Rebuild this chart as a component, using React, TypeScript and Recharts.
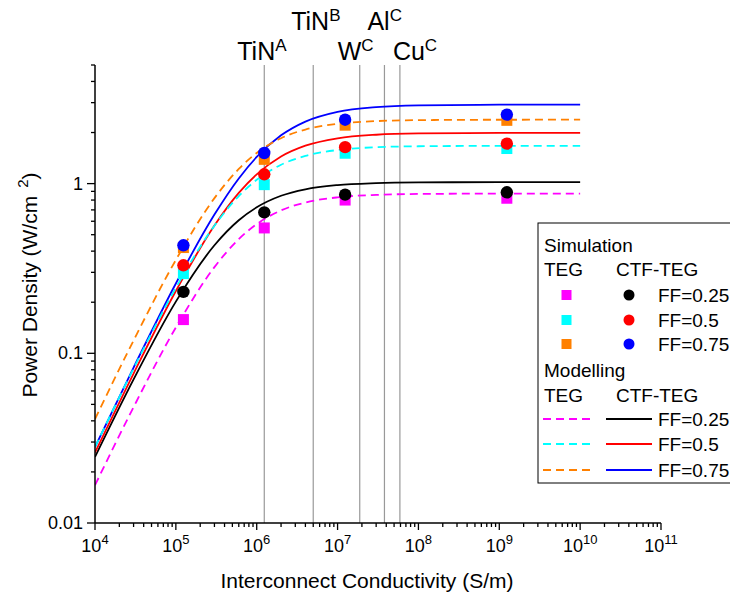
import React from 'react';
import { ComposedChart, Line, Scatter, XAxis, YAxis, ReferenceLine } from 'recharts';

// ---------- data ----------
const curveSigma = [1e4, 3e4, 1e5, 3e5, 6e5, 1e6, 2e6, 4e6, 1e7, 3e7, 1e8, 1e9, 1e10];
const modTegFF025 = [0.0167, 0.0482, 0.142, 0.322, 0.471, 0.577, 0.695, 0.774, 0.83, 0.858, 0.869, 0.873, 0.873];
const modTegFF05 = [0.028, 0.0813, 0.243, 0.565, 0.845, 1.053, 1.292, 1.457, 1.578, 1.638, 1.66, 1.669, 1.67];
const modTegFF075 = [0.041, 0.119, 0.355, 0.821, 1.22, 1.516, 1.852, 2.083, 2.25, 2.335, 2.366, 2.379, 2.38];
const modCtfFF025 = [0.0245, 0.0702, 0.2016, 0.433, 0.608, 0.725, 0.848, 0.926, 0.98, 1.006, 1.016, 1.02, 1.02];
const modCtfFF05 = [0.026, 0.076, 0.233, 0.566, 0.881, 1.134, 1.445, 1.674, 1.85, 1.941, 1.975, 1.988, 1.99];
const modCtfFF075 = [0.028, 0.0824, 0.258, 0.657, 1.073, 1.436, 1.925, 2.32, 2.647, 2.823, 2.89, 2.917, 2.92];

const simSigma = [1.24e5, 1.24e6, 1.24e7, 1.24e9];
const simTegFF025 = [0.158, 0.548, 0.8, 0.82];
const simTegFF05 = [0.295, 0.986, 1.51, 1.61];
const simTegFF075 = [0.42, 1.39, 2.21, 2.36];
const simCtfFF025 = [0.23, 0.677, 0.861, 0.889];
const simCtfFF05 = [0.33, 1.135, 1.64, 1.72];
const simCtfFF075 = [0.433, 1.515, 2.38, 2.55];

const materialNames = ['TiN', 'TiN', 'W', 'Al', 'Cu'];
const materialRefs = ['A', 'B', 'C', 'C', 'C'];
const materialSigma = [1.24e6, 5e6, 1.88e7, 3.8e7, 5.9e7];

const xMajorTicks = [1e4, 1e5, 1e6, 1e7, 1e8, 1e9, 1e10, 1e11];
const xExponents = ['4', '5', '6', '7', '8', '9', '10', '11'];
const yMajorTicks = [0.01, 0.1, 1];
const yMajorLabels = ['0.01', '0.1', '1'];

// ---------- helpers ----------
const FONT = '"Liberation Sans", Arial, Helvetica, sans-serif';
const toPts = (xs: number[], ys: number[]) => xs.map((x, i) => ({ x, y: ys[i] }));
const isMajor = (v: number) => Math.abs(Math.log10(v) - Math.round(Math.log10(v))) < 1e-9;

const buildMinor = (from: number, to: number, maxVal: number) => {
  const out: number[] = [];
  for (let e = from; e <= to; e++) {
    for (let m = 1; m <= 9; m++) {
      const v = parseFloat((m * Math.pow(10, e)).toPrecision(6));
      if (v <= maxVal * 1.0000001) out.push(v);
    }
  }
  return out;
};
const xTicks = buildMinor(4, 11, 1e11);
const yTicks = buildMinor(-2, 0, 5);

const XTick = (props: any) => {
  const { x, y, payload } = props;
  const v = payload.value;
  const major = isMajor(v);
  const idx = xMajorTicks.findIndex((t) => Math.abs(Math.log10(t) - Math.log10(v)) < 1e-9);
  return (
    <g>
      <line x1={x} x2={x} y1={y} y2={y + (major ? 7 : 4)} stroke="#000" strokeWidth={1.3} />
      {major && idx >= 0 && (
        <text x={x} y={y + 29} textAnchor="middle" fontFamily={FONT} fontSize={18} fill="#000">
          <tspan>10</tspan>
          <tspan dy={-8} fontSize={13}>{xExponents[idx]}</tspan>
        </text>
      )}
    </g>
  );
};

const YTick = (props: any) => {
  const { x, y, payload } = props;
  const v = payload.value;
  const major = isMajor(v);
  const idx = yMajorTicks.findIndex((t) => Math.abs(Math.log10(t) - Math.log10(v)) < 1e-9);
  return (
    <g>
      <line x1={x - (major ? 8 : 4)} x2={x} y1={y} y2={y} stroke="#000" strokeWidth={1.3} />
      {major && idx >= 0 && (
        <text x={x - 12} y={y + 6} textAnchor="end" fontFamily={FONT} fontSize={18} fill="#000">
          {yMajorLabels[idx]}
        </text>
      )}
    </g>
  );
};

const labelOffsets = [
  { dx: -27, y: 60 },
  { dx: -22, y: 30 },
  { dx: -22, y: 60 },
  { dx: -17, y: 30 },
  { dx: -7, y: 60 },
];

const makeMatLabel = (i: number) => (props: any) => {
  const vb = props.viewBox || {};
  const x = (vb.x ?? 0) + labelOffsets[i].dx;
  return (
    <text x={x} y={labelOffsets[i].y} fontFamily={FONT} fontSize={25} fill="#000">
      <tspan>{materialNames[i]}</tspan>
      <tspan dy={-9} fontSize={17}>{materialRefs[i]}</tspan>
    </text>
  );
};

const square = (color: string) => (props: any) => {
  const { cx, cy } = props;
  if (cx == null || cy == null) return <g />;
  return <rect x={cx - 5.5} y={cy - 5.5} width={11} height={11} fill={color} />;
};
const circle = (color: string) => (props: any) => {
  const { cx, cy } = props;
  if (cx == null || cy == null) return <g />;
  return <circle cx={cx} cy={cy} r={6.2} fill={color} />;
};

const MAG = '#FF00FF';
const CYA = '#00FFFF';
const ORA = '#FF8000';
const BLK = '#000000';
const RED = '#FF0000';
const BLU = '#0000FF';
const DASH = '8 5';

export default function App() {
  const legendText = { fontFamily: FONT, fontSize: 19, fill: '#000' } as const;
  const symRows = [295, 320, 344];
  const lineRows = [419, 444, 470];
  const ffLabels = ['FF=0.25', 'FF=0.5', 'FF=0.75'];
  const tegCols = [MAG, CYA, ORA];
  const ctfCols = [BLK, RED, BLU];
  return (
    <div style={{ position: 'absolute', left: 0, top: 0, width: 730, height: 596, background: '#fff' }}>
      <ComposedChart
        width={730}
        height={596}
        margin={{ top: 65, right: 69, left: 0, bottom: 0 }}
        style={{ position: 'absolute', left: 0, top: 0 }}
      >
        <XAxis
          dataKey="x"
          type="number"
          scale="log"
          domain={[1e4, 1e11]}
          ticks={xTicks}
          interval={0}
          allowDataOverflow
          height={73}
          tickSize={0}
          tickMargin={0}
          tickLine={false}
          axisLine={{ stroke: '#000', strokeWidth: 1.5 }}
          tick={<XTick />}
        />
        <YAxis
          dataKey="y"
          type="number"
          scale="log"
          domain={[0.01, 5]}
          ticks={yTicks}
          interval={0}
          allowDataOverflow
          width={95}
          tickSize={0}
          tickMargin={0}
          tickLine={false}
          axisLine={{ stroke: '#000', strokeWidth: 1.5 }}
          tick={<YTick />}
        />
        {materialSigma.map((s, i) => (
          <ReferenceLine key={'m' + i} x={s} stroke="#999" strokeWidth={1.2} label={makeMatLabel(i)} />
        ))}
        <Scatter data={toPts(simSigma, simTegFF025)} dataKey="y" isAnimationActive={false} shape={square(MAG)} />
        <Scatter data={toPts(simSigma, simTegFF05)} dataKey="y" isAnimationActive={false} shape={square(CYA)} />
        <Scatter data={toPts(simSigma, simTegFF075)} dataKey="y" isAnimationActive={false} shape={square(ORA)} />
        <Scatter data={toPts(simSigma, simCtfFF025)} dataKey="y" isAnimationActive={false} shape={circle(BLK)} />
        <Scatter data={toPts(simSigma, simCtfFF05)} dataKey="y" isAnimationActive={false} shape={circle(RED)} />
        <Scatter data={toPts(simSigma, simCtfFF075)} dataKey="y" isAnimationActive={false} shape={circle(BLU)} />
        <Line data={toPts(curveSigma, modCtfFF025)} dataKey="y" type="monotone" stroke={BLK} strokeWidth={1.8} dot={false} isAnimationActive={false} />
        <Line data={toPts(curveSigma, modCtfFF05)} dataKey="y" type="monotone" stroke={RED} strokeWidth={1.8} dot={false} isAnimationActive={false} />
        <Line data={toPts(curveSigma, modCtfFF075)} dataKey="y" type="monotone" stroke={BLU} strokeWidth={1.8} dot={false} isAnimationActive={false} />
        <Line data={toPts(curveSigma, modTegFF025)} dataKey="y" type="monotone" stroke={MAG} strokeWidth={1.8} strokeDasharray={DASH} dot={false} isAnimationActive={false} />
        <Line data={toPts(curveSigma, modTegFF05)} dataKey="y" type="monotone" stroke={CYA} strokeWidth={1.8} strokeDasharray={DASH} dot={false} isAnimationActive={false} />
        <Line data={toPts(curveSigma, modTegFF075)} dataKey="y" type="monotone" stroke={ORA} strokeWidth={1.8} strokeDasharray={DASH} dot={false} isAnimationActive={false} />
      </ComposedChart>
      <svg width={730} height={596} style={{ position: 'absolute', left: 0, top: 0, pointerEvents: 'none' }}>
        <text x={367} y={588} textAnchor="middle" fontFamily={FONT} fontSize={21} fill="#000">
          Interconnect Conductivity (S/m)
        </text>
        <text
          transform="translate(37,285) rotate(-90)"
          textAnchor="middle"
          fontFamily={FONT}
          fontSize={21}
          fill="#000"
        >
          <tspan>Power Density (W/cm</tspan>
          <tspan dx={8} dy={-9} fontSize={15}>2</tspan>
          <tspan dy={9}>)</tspan>
        </text>
        <rect x={538} y={223} width={220} height={260} fill="#fff" stroke="#000" strokeWidth={1} />
        <text x={544} y={252} {...legendText}>Simulation</text>
        <text x={544} y={276} {...legendText}>TEG</text>
        <text x={616} y={276} {...legendText}>CTF-TEG</text>
        {symRows.map((yy, i) => (
          <g key={'s' + i}>
            <rect x={561.5} y={yy - 5} width={10} height={10} fill={tegCols[i]} />
            <circle cx={629} cy={yy} r={5.5} fill={ctfCols[i]} />
            <text x={658} y={yy + 7} {...legendText}>{ffLabels[i]}</text>
          </g>
        ))}
        <text x={544} y={377} {...legendText}>Modelling</text>
        <text x={544} y={402} {...legendText}>TEG</text>
        <text x={616} y={402} {...legendText}>CTF-TEG</text>
        {lineRows.map((yy, i) => (
          <g key={'l' + i}>
            <line x1={543} x2={590} y1={yy} y2={yy} stroke={tegCols[i]} strokeWidth={1.8} strokeDasharray={DASH} />
            <line x1={606} x2={652} y1={yy} y2={yy} stroke={ctfCols[i]} strokeWidth={1.8} />
            <text x={658} y={yy + 7} {...legendText}>{ffLabels[i]}</text>
          </g>
        ))}
      </svg>
    </div>
  );
}
